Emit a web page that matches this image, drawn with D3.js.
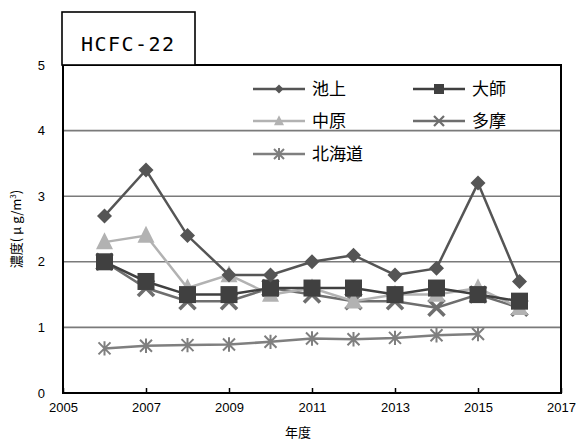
<!DOCTYPE html>
<html><head><meta charset="utf-8">
<script src="https://cdn.jsdelivr.net/npm/d3@7"></script>
<style>body{margin:0;background:#fff;} svg{display:block;}</style>
</head><body>
<svg id="c" width="577" height="441"></svg>
<script>
const years = [2006,2007,2008,2009,2010,2011,2012,2013,2014,2015,2016];
const ikegami  = [2.7,3.4,2.4,1.8,1.8,2.0,2.1,1.8,1.9,3.2,1.7];
const daishi   = [2.0,1.7,1.5,1.5,1.6,1.6,1.6,1.5,1.6,1.5,1.4];
const nakahara = [2.3,2.4,1.6,1.8,1.5,1.6,1.4,1.5,1.5,1.6,1.3];
const tama     = [2.0,1.6,1.4,1.4,1.6,1.5,1.4,1.4,1.3,1.5,1.3];
const hokkaido = [0.68,0.72,0.73,0.74,0.78,0.83,0.82,0.84,0.88,0.90];
const xTicks = [2005,2007,2009,2011,2013,2015,2017];
const yTicks = [0,1,2,3,4,5];
const seriesNames = ["池上","大師","中原","多摩","北海道"];

const svg = d3.select("#c");
const font = "'Noto Sans CJK JP','DejaVu Sans',sans-serif";
const L=63,R=561,T=65,B=393;
const x = d3.scaleLinear().domain([2005,2017]).range([L,R]);
const y = d3.scaleLinear().domain([0,5]).range([B,T]);

// gridlines
svg.append("g").selectAll("line").data(yTicks.filter(d=>d>0&&d<5)).join("line")
  .attr("x1",L).attr("x2",R).attr("y1",d=>y(d)).attr("y2",d=>y(d))
  .attr("stroke","#7a7a7a").attr("stroke-width",1.6);

// plot border
svg.append("rect").attr("x",L).attr("y",T).attr("width",R-L).attr("height",B-T)
  .attr("fill","none").attr("stroke","#000").attr("stroke-width",2);

// title box
svg.append("rect").attr("x",62).attr("y",12).attr("width",133).attr("height",53)
  .attr("fill","#fff").attr("stroke","#000").attr("stroke-width",1.6);
svg.append("text").attr("x",81).attr("y",51)
  .attr("font-family","'DejaVu Sans Mono','Liberation Mono',monospace").attr("font-size",20)
  .attr("textLength",93).attr("lengthAdjust","spacing").text("HCFC-22");

// axes
const xa = svg.append("g").attr("transform",`translate(0,${B})`)
  .call(d3.axisBottom(x).tickValues(xTicks).tickFormat(d3.format("d")).tickSizeInner(-5).tickSizeOuter(0).tickPadding(10));
xa.select(".domain").remove();
xa.selectAll("line").attr("stroke","#000").attr("stroke-width",1.5);
xa.selectAll("text").attr("font-family","'Liberation Sans',Arial,sans-serif").attr("font-size",13).attr("fill","#000");

const ya = svg.append("g").attr("transform",`translate(${L},0)`)
  .call(d3.axisLeft(y).tickValues(yTicks).tickFormat(d3.format("d")).tickSize(0).tickPadding(18));
ya.select(".domain").remove();
ya.selectAll("text").attr("font-family","'Liberation Sans',Arial,sans-serif").attr("font-size",13).attr("fill","#000");

svg.append("text").attr("x",298).attr("y",437).attr("text-anchor","middle")
  .attr("font-family",font).attr("font-size",13).text("年度");
const yt = svg.append("text").attr("transform","translate(21,229) rotate(-90)").attr("text-anchor","middle")
  .attr("font-family",font).attr("font-size",13);
yt.append("tspan").text("濃度( μ g/m");
yt.append("tspan").attr("font-size",8).attr("dy",-5).text("3");
yt.append("tspan").attr("dy",5).text(")");

// marker drawing
function marker(g, type, cx, cy, s, color){
  if(type==="diamond"){
    g.append("path").attr("d",`M${cx},${cy-s}L${cx+s},${cy}L${cx},${cy+s}L${cx-s},${cy}Z`).attr("fill",color);
  } else if(type==="square"){
    g.append("rect").attr("x",cx-s).attr("y",cy-s).attr("width",2*s).attr("height",2*s).attr("fill",color);
  } else if(type==="triangle"){
    g.append("path").attr("d",`M${cx},${cy-s*1.15}L${cx+s},${cy+s*0.85}L${cx-s},${cy+s*0.85}Z`).attr("fill",color);
  } else if(type==="x"){
    g.append("path").attr("d",`M${cx-s},${cy-s}L${cx+s},${cy+s}M${cx+s},${cy-s}L${cx-s},${cy+s}`)
      .attr("stroke",color).attr("stroke-width",s*0.45).attr("fill","none");
  } else if(type==="star"){
    g.append("path").attr("d",`M${cx-s},${cy-s}L${cx+s},${cy+s}M${cx+s},${cy-s}L${cx-s},${cy+s}M${cx},${cy-s*1.2}L${cx},${cy+s*1.2}`)
      .attr("stroke",color).attr("stroke-width",2).attr("fill","none");
  }
}

const series = [
  {name:seriesNames[0], vals:ikegami,  color:"#555555", type:"diamond", s:7.5, ls:4.5},
  {name:seriesNames[1], vals:daishi,   color:"#404040", type:"square", s:8.5, ls:5},
  {name:seriesNames[2], vals:nakahara, color:"#b2b2b2", type:"triangle", s:8.5, ls:5},
  {name:seriesNames[3], vals:tama,     color:"#6e6e6e", type:"x", s:8, ls:5},
  {name:seriesNames[4], vals:hokkaido, color:"#7f7f7f", type:"star", s:6, ls:5}
];
const line = d3.line().x(d=>x(d[0])).y(d=>y(d[1]));

[...series].reverse().forEach(sr=>{
  const pts = sr.vals.map((v,i)=>[years[i],v]);
  const g = svg.append("g");
  g.append("path").attr("d",line(pts)).attr("fill","none").attr("stroke",sr.color).attr("stroke-width",2.5);
  pts.forEach(p=>marker(g,sr.type,x(p[0]),y(p[1]),sr.s,sr.color));
});

// legend
const legPos = [[253,89],[413,89],[253,121],[413,121],[253,154]];
series.forEach((sr,i)=>{
  const [lx,ly] = legPos[i];
  const g = svg.append("g");
  g.append("line").attr("x1",lx).attr("x2",lx+52).attr("y1",ly).attr("y2",ly)
    .attr("stroke",sr.color).attr("stroke-width",2.5);
  marker(g,sr.type,lx+26,ly,sr.ls,sr.color);
  g.append("text").attr("x",lx+59).attr("y",ly+6).attr("font-family",font)
    .attr("font-size",17).attr("fill","#000").text(sr.name);
});
</script>
</body></html>
